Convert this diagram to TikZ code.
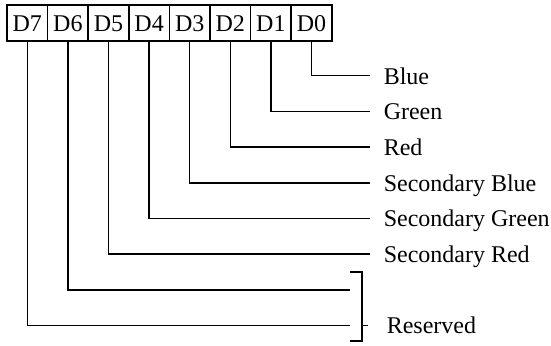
\documentclass[tikz,border=0pt]{standalone}
\usepackage{fontspec}
\setmainfont{Liberation Serif}
\usetikzlibrary{positioning}

\begin{document}
\begin{tikzpicture}[x=.5pt,y=-.5pt,line width=.75pt,
    every node/.style={font=\fontsize{12}{14}\selectfont,inner sep=0pt,text height=8.3pt,text depth=0pt},
    bitbox/.style={draw,minimum width=20.3pt,minimum height=18pt},
    lbl/.style={anchor=west}]
  \useasboundingbox (0,0) rectangle (551,345);
  % the register
  \foreach \i in {0,...,7}
    \node[bitbox] (d\i) at ({27.3+40.6*(7-\i)},23) {D\i};
  % used bits
  \foreach \i/\t in {0/Blue,1/Green,2/Red,3/Secondary Blue,4/Secondary Green,5/Secondary Red} {
    \coordinate (e\i) at (370,{75.7+35.7*\i});
    \node[lbl] (t\i) at (383,{75.7+35.7*\i}) {\t};
    \draw (d\i.south) |- (e\i);
  }
  % reserved bits
  \foreach \i in {6,7} {
    \coordinate (e\i) at (350,{75.7+35.7*\i});
    \draw (d\i.south) |- (e\i);
  }
  \coordinate (btop) at (362,272);
  \coordinate (bbot) at (362,341);
  \coordinate (btick) at (362,325.6);
  \node[lbl] (res) at (386,325.6) {Reserved};
  \draw (btop) ++(-12,0) -- (btop) -- (bbot) -- ++(-12,0);
  \draw (btick) -- ++(6,0);
\end{tikzpicture}
\end{document}
